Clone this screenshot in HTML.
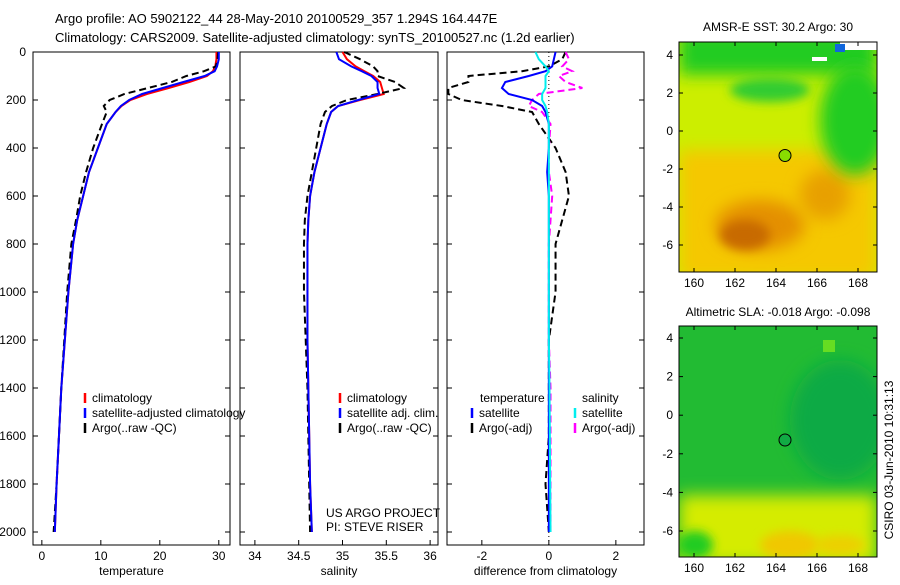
<!DOCTYPE html>
<html><head><meta charset="utf-8"><style>
body{margin:0;background:#fff;width:900px;height:580px;overflow:hidden}
svg{font-family:"Liberation Sans",sans-serif;font-size:12px}
</style></head><body>
<svg id="s" width="900" height="580" xmlns="http://www.w3.org/2000/svg">
<defs>
<filter id="bl" x="-50%" y="-50%" width="200%" height="200%"><feGaussianBlur stdDeviation="8"/></filter>
<filter id="bl2" x="-50%" y="-50%" width="200%" height="200%"><feGaussianBlur stdDeviation="5"/></filter>
<clipPath id="c1"><rect x="679" y="42" width="198" height="230"/></clipPath>
<clipPath id="c2"><rect x="679" y="326" width="198" height="231"/></clipPath>
</defs>
<text x="55" y="23" font-size="13">Argo profile: AO 5902122_44 28-May-2010 20100529_357 1.294S 164.447E</text>
<text x="55" y="42" font-size="13">Climatology: CARS2009. Satellite-adjusted climatology: synTS_20100527.nc (1.2d earlier)</text>
<g id="plots"></g>
<!-- SST map -->
<g clip-path="url(#c1)">
<rect x="679" y="42" width="198" height="230" fill="#ccee00"/>
<rect x="679" y="150" width="198" height="130" fill="#f5c800" filter="url(#bl)"/>
<ellipse cx="760" cy="225" rx="45" ry="25" fill="#e49000" filter="url(#bl)"/>
<ellipse cx="825" cy="195" rx="25" ry="25" fill="#e8a000" filter="url(#bl)"/>
<ellipse cx="745" cy="235" rx="25" ry="15" fill="#c86a00" filter="url(#bl2)"/>
<rect x="679" y="30" width="198" height="45" fill="#22cc22" filter="url(#bl)"/>
<ellipse cx="855" cy="120" rx="35" ry="55" fill="#22cc22" filter="url(#bl)"/>
<ellipse cx="770" cy="90" rx="40" ry="12" fill="#33cc33" filter="url(#bl2)"/>
<rect x="812" y="57" width="15" height="4" fill="#fff"/>
<rect x="840" y="42" width="40" height="8" fill="#fff"/>
<rect x="835" y="44" width="10" height="8" fill="#1166dd"/>
<circle cx="785" cy="155.5" r="6" fill="#88dd00" stroke="#000"/>
</g>
<rect x="679" y="42" width="198" height="230" fill="none" stroke="#000"/>
<text x="778" y="31" text-anchor="middle">AMSR-E SST: 30.2 Argo: 30</text>
<!-- SLA map -->
<g clip-path="url(#c2)">
<rect x="679" y="326" width="198" height="231" fill="#22bb33"/>
<ellipse cx="840" cy="420" rx="50" ry="60" fill="#11aa44" filter="url(#bl)"/>
<rect x="679" y="495" width="198" height="70" fill="#d5ec00" filter="url(#bl)"/>
<ellipse cx="790" cy="545" rx="30" ry="14" fill="#f0c800" filter="url(#bl2)"/>
<ellipse cx="840" cy="545" rx="25" ry="10" fill="#ecd000" filter="url(#bl2)"/>
<ellipse cx="695" cy="545" rx="18" ry="14" fill="#22cc22" filter="url(#bl2)"/>
<rect x="823" y="340" width="12" height="12" fill="#66dd22"/>
<circle cx="785" cy="440" r="6" fill="#11aa44" stroke="#000"/>
</g>
<rect x="679" y="326" width="198" height="231" fill="none" stroke="#000"/>
<text x="778" y="316" text-anchor="middle">Altimetric SLA: -0.018 Argo: -0.098</text>
<text transform="translate(893,460) rotate(-90)" text-anchor="middle">CSIRO 03-Jun-2010 10:31:13</text>
<text x="326" y="517">US ARGO PROJECT</text>
<text x="326" y="531">PI: STEVE RISER</text>
</svg>
<script>
const depths=[0,30,60,80,100,125,150,175,200,225,250,300,400,500,600,700,800,1000,1200,1400,1600,1800,2000];
const tempClim=[29.6,29.6,29.4,29,28,25,21.5,17.8,15,13.5,12.5,11,9.5,8,7,6,5.3,4.5,3.9,3.3,2.9,2.5,2.2];
const tempSat=[30,30,29.7,29.3,27.6,24,20.5,17,14.8,13.4,12.5,11,9.5,8,7,6,5.3,4.5,3.9,3.3,2.9,2.5,2.2];
const tempArgo=[29.9,29.8,29.5,27.5,24.5,22,18,14,11.5,10.5,11,10.2,8.7,7.5,6.5,5.8,5,4.3,3.8,3.3,2.9,2.5,2.0];
const salClim=[35.0,35.05,35.15,35.25,35.35,35.43,35.45,35.47,35.2,34.95,34.87,34.82,34.75,34.68,34.63,34.61,34.6,34.6,34.6,34.61,34.62,34.63,34.65];
const salSat=[34.93,34.96,35.1,35.22,35.33,35.4,35.4,35.42,35.18,34.95,34.87,34.82,34.75,34.68,34.63,34.61,34.6,34.6,34.6,34.61,34.62,34.63,34.65];
const salArgo=[35.02,35.2,35.35,35.4,35.4,35.6,35.7,35.4,35.05,34.88,34.8,34.75,34.7,34.65,34.6,34.57,34.56,34.56,34.58,34.6,34.61,34.62,34.63];
const dTempSat=[0.2,0.15,0.1,-0.1,-0.6,-1.3,-1.4,-1.2,-0.5,-0.2,-0.1,0,0,-0.05,0,0,0,0,0,0,0,0,0];
const dTempArgo=[0.5,0.4,0,-0.8,-2.4,-2.4,-3,-3,-2.6,-1.4,-0.5,-0.3,0.2,0.5,0.6,0.4,0.2,0.2,0,0,0,-0.1,0];
const dSalSat=[-0.4,-0.3,-0.1,0,-0.1,-0.1,-0.1,-0.2,-0.2,-0.1,-0.05,0,0,0,0,0,0,0,0,0.02,0.03,0.04,0.05];
const dSalArgo=[0.5,0.6,0.4,0.7,0.3,0.5,1.0,-0.3,-0.5,-0.6,-0.2,0.05,0,0,0.1,0.05,0,0,0,0.05,0.05,0.05,0.05];
const depthTicks=[0,200,400,600,800,1000,1200,1400,1600,1800,2000];
const tempTicks=[0,10,20,30], salTicks=[34,34.5,35,35.5,36], diffTicks=[-2,0,2];
const mapLonTicks=[160,162,164,166,168], mapLatTicks=[4,2,0,-2,-4,-6];
const NS="http://www.w3.org/2000/svg";
const svg=document.getElementById('s'), G=document.getElementById('plots');
function mk(t,a,p){const e=document.createElementNS(NS,t);for(const k in a)e.setAttribute(k,a[k]);(p||G).appendChild(e);return e;}
const Y0=52,YK=0.24,BOT=545;
const yD=d=>Y0+d*YK;
function panel(x0,x1,xmin,xmax,ticks,lab,name,fmt){
  const xs=v=>x0+(v-xmin)/(xmax-xmin)*(x1-x0);
  const r=mk('rect',{x:x0,y:Y0,width:x1-x0,height:BOT-Y0,fill:'none',stroke:'#000'});
  
  
  depthTicks.forEach(d=>{mk('line',{x1:x0,x2:x0+5,y1:yD(d),y2:yD(d),stroke:'#000'});mk('line',{x1:x1,x2:x1-5,y1:yD(d),y2:yD(d),stroke:'#000'});});
  ticks.forEach(v=>{mk('line',{x1:xs(v),x2:xs(v),y1:BOT,y2:BOT-5,stroke:'#000'});
    const t=mk('text',{x:xs(v),y:BOT+15,'text-anchor':'middle'});t.textContent=fmt?fmt(v):v;
    
    });
  const l=mk('text',{x:(x0+x1)/2,y:575,'text-anchor':'middle'});l.textContent=lab;
  
  
  return xs;
}
function line(xs,vals,col,dash,name){
  const p=mk('polyline',{points:vals.map((v,i)=>xs(v)+','+yD(depths[i])).join(' '),fill:'none',stroke:col,'stroke-width':2});
  if(dash)p.setAttribute('stroke-dasharray',dash);
  
  
}
function leg(x,y,col,txt,name){
  mk('line',{x1:x,x2:x,y1:y-9,y2:y+1,stroke:col,'stroke-width':2.5});
  const t=mk('text',{x:x+7,y:y});t.textContent=txt;
  
  
}
// y labels
depthTicks.forEach(d=>{const t=mk('text',{x:26,y:yD(d)+4,'text-anchor':'end'});t.textContent=d;
  
  });
const xt=panel(33,230,-1.5,31.9,tempTicks,'temperature','temperature-panel');
line(xt,tempClim,'#f00',null,'temp-climatology-line');
line(xt,tempArgo,'#000','7,4','temp-argo-line');
line(xt,tempSat,'#00f',null,'temp-satellite-line');
leg(85,402,'#f00','climatology','legend-climatology');
leg(85,417,'#00f','satellite-adjusted climatology','legend-satellite');
leg(85,432,'#000','Argo(..raw -QC)','legend-argo');
const xsal=panel(240,438,33.83,36.09,salTicks,'salinity','salinity-panel');
line(xsal,salClim,'#f00',null,'sal-climatology-line');
line(xsal,salArgo,'#000','7,4','sal-argo-line');
line(xsal,salSat,'#00f',null,'sal-satellite-line');
leg(340,402,'#f00','climatology','legend2-climatology');
leg(340,417,'#00f','satellite adj. clim.','legend2-satellite');
leg(340,432,'#000','Argo(..raw -QC)','legend2-argo');
const xd=panel(447,644,-3.04,2.84,diffTicks,'difference from climatology','difference-panel');
mk('line',{x1:xd(0),x2:xd(0),y1:Y0,y2:BOT,stroke:'#000','stroke-dasharray':'1,3'});
line(xd,dTempArgo,'#000','7,4','diff-temp-argo-line');
line(xd,dSalArgo,'#f0f','7,4','diff-sal-argo-line');
line(xd,dTempSat,'#00f',null,'diff-temp-satellite-line');
line(xd,dSalSat,'#0ee',null,'diff-sal-satellite-line');
let t=mk('text',{x:480,y:402});t.textContent='temperature';
t=mk('text',{x:582,y:402});t.textContent='salinity';
leg(472,417,'#00f','satellite','legend3-temp-satellite');
leg(472,432,'#000','Argo(-adj)','legend3-temp-argo');
leg(575,417,'#0ee','satellite','legend3-sal-satellite');
leg(575,432,'#f0f','Argo(-adj)','legend3-sal-argo');
// map axes
function mapAxes(y0,y1,lat4y,latK,name){
  const lx=v=>694+(v-160)*20.5, ly=v=>lat4y+(4-v)*latK;
  mapLonTicks.forEach(v=>{mk('line',{x1:lx(v),x2:lx(v),y1:y1,y2:y1-4,stroke:'#000'},svg);mk('line',{x1:lx(v),x2:lx(v),y1:y0,y2:y0+4,stroke:'#000'},svg);
    const t=mk('text',{x:lx(v),y:y1+15,'text-anchor':'middle'},svg);t.textContent=v;
    
    });
  mapLatTicks.forEach(v=>{mk('line',{x1:679,x2:683,y1:ly(v),y2:ly(v),stroke:'#000'},svg);mk('line',{x1:877,x2:873,y1:ly(v),y2:ly(v),stroke:'#000'},svg);
    const t=mk('text',{x:673,y:ly(v)+4,'text-anchor':'end'},svg);t.textContent=v;
    
    });
}
mapAxes(42,272,55,19,'sst-map');
mapAxes(326,557,338,19.3,'sla-map');
</script>
</body></html>
